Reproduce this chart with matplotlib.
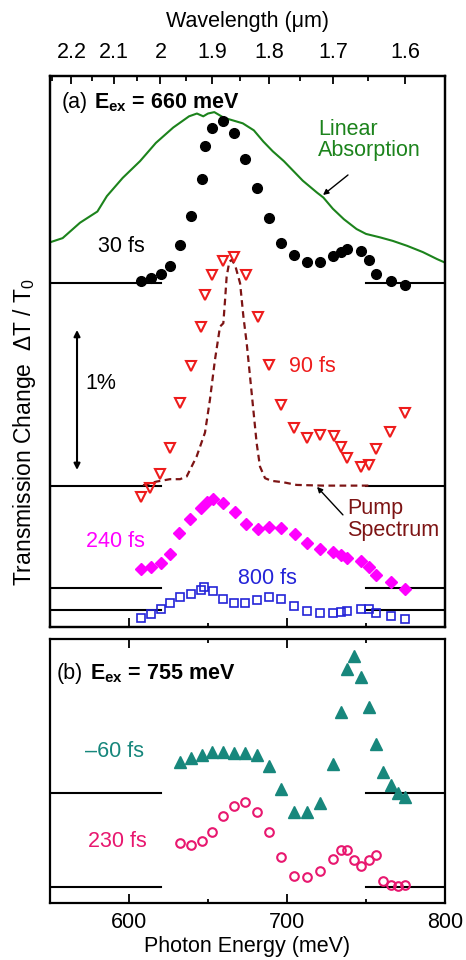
import matplotlib
matplotlib.use("Agg")
import matplotlib.pyplot as plt
from matplotlib.ticker import NullFormatter

plt.rcParams["font.family"] = ["Liberation Sans", "DejaVu Sans"]
plt.rcParams["mathtext.fontset"] = "custom"
plt.rcParams["mathtext.rm"] = "Liberation Sans"
plt.rcParams["mathtext.it"] = "Liberation Sans:italic"
plt.rcParams["mathtext.bf"] = "Liberation Sans:bold"

# ---- data (photon energy in meV, dT/T0 in %, relative to each baseline) ----
e_30 = [607.4, 613.9, 620.0, 625.9, 632.5, 639.0, 646.0, 647.9, 652.7, 659.5, 666.5, 673.6, 681.2,
        688.8, 696.4, 704.6, 712.7, 720.7, 729.3, 734.0, 738.0, 747.0, 751.7, 756.3, 765.6, 774.7]
v_30 = [0.014, 0.033, 0.067, 0.121, 0.271, 0.476, 0.745, 0.979, 1.110, 1.157, 1.069, 0.888, 0.676,
        0.467, 0.288, 0.198, 0.150, 0.150, 0.193, 0.224, 0.240, 0.229, 0.162, 0.067, 0.014, -0.014]

e_90 = [607.4, 613.5, 619.8, 625.9, 632.5, 639.0, 645.8, 647.9, 652.5, 659.5, 666.5, 673.8, 681.4,
        688.8, 696.4, 704.6, 712.7, 720.9, 729.5, 734.0, 738.0, 747.0, 751.7, 756.1, 765.2, 774.9]
v_90 = [-0.076, -0.012, 0.083, 0.274, 0.590, 0.857, 1.133, 1.364, 1.507, 1.610, 1.638, 1.507, 1.205,
        0.864, 0.576, 0.412, 0.345, 0.364, 0.357, 0.281, 0.198, 0.138, 0.150, 0.262, 0.388, 0.524]

e_240 = [607.4, 613.9, 620.0, 625.9, 631.8, 638.6, 645.5, 649.1, 652.9, 659.7, 666.8, 673.8, 681.4,
         688.8, 696.2, 704.8, 712.7, 720.7, 729.3, 734.0, 738.0, 747.0, 751.7, 756.1, 765.6, 774.7]
v_240 = [0.133, 0.148, 0.176, 0.243, 0.390, 0.490, 0.569, 0.617, 0.636, 0.610, 0.540, 0.457, 0.419,
         0.433, 0.426, 0.383, 0.319, 0.276, 0.260, 0.236, 0.217, 0.190, 0.148, 0.093, 0.045, -0.010]

e_800 = [607.4, 613.9, 620.0, 625.9, 632.3, 639.0, 645.5, 647.6, 652.9, 659.7, 666.6, 673.6, 680.8,
         688.8, 696.2, 704.6, 712.7, 720.7, 728.9, 734.0, 738.0, 747.0, 751.7, 756.1, 765.6, 774.7]
v_800 = [-0.060, -0.031, 0.005, 0.052, 0.090, 0.112, 0.143, 0.162, 0.138, 0.079, 0.052, 0.052, 0.071,
         0.090, 0.076, 0.029, -0.005, -0.024, -0.024, -0.017, -0.005, 0.007, 0.005, -0.019, -0.043, -0.067]

e_abs = [550, 558, 569, 580, 586, 596, 607, 617, 628, 638, 643, 647, 650, 654, 660, 666, 672, 679,
         685, 691, 698, 704, 710, 719, 723, 729, 736, 744, 750, 759, 767, 776, 786, 795, 800]
v_abs = [0.29, 0.32, 0.43, 0.51, 0.62, 0.75, 0.87, 1.00, 1.11, 1.19, 1.21, 1.19, 1.21, 1.22, 1.18,
         1.16, 1.14, 1.09, 1.01, 0.94, 0.87, 0.80, 0.73, 0.645, 0.61, 0.53, 0.455, 0.385, 0.35, 0.325,
         0.30, 0.265, 0.22, 0.17, 0.145]

e_pump = [608.9, 617.5, 625.9, 632.3, 636.5, 642.8, 648.1, 651.2, 654.4, 657.6, 659.7, 660.8, 661.8,
          663.5, 665.0, 667.1, 670.3, 672.4, 674.5, 676.6, 678.7, 680.8, 682.9, 686.1, 690.3, 697.7,
          706.1, 723.0, 751.5]
v_pump = [0.005, 0.031, 0.048, 0.048, 0.067, 0.210, 0.381, 0.614, 0.900, 1.138, 1.162, 1.329, 1.495,
          1.602, 1.614, 1.579, 1.448, 1.210, 1.019, 0.781, 0.543, 0.305, 0.138, 0.055, 0.036, 0.026,
          0.007, 0.002, 0.002]

e_b = [632.3, 639.0, 646.0, 652.7, 659.7, 666.6, 673.6, 681.0, 688.8, 696.4, 704.6, 712.7, 720.7,
       729.3, 734.0, 738.0, 742.6, 747.0, 751.7, 756.1, 761.0, 765.6, 770.3, 774.7]
v_m60 = [0.221, 0.250, 0.269, 0.293, 0.293, 0.281, 0.281, 0.269, 0.190, 0.024, -0.136, -0.136, -0.071,
         0.202, 0.579, 0.881, 0.979, 0.829, 0.610, 0.345, 0.145, 0.055, 0.000, -0.033]
v_230 = [0.317, 0.305, 0.329, 0.395, 0.512, 0.583, 0.607, 0.536, 0.393, 0.217, 0.079, 0.074, 0.114,
         0.202, 0.264, 0.264, 0.198, 0.150, 0.198, 0.229, 0.043, 0.014, 0.012, 0.014]

wl_major = [2.2, 2.1, 2.0, 1.9, 1.8, 1.7, 1.6]
wl_major_labels = ["2.2", "2.1", "2", "1.9", "1.8", "1.7", "1.6"]
wl_minor = [2.25, 2.15, 2.05, 1.95, 1.85, 1.75, 1.65, 1.55]

# vertical offsets of the traces (%)
off_30, off_90, off_240, off_800 = 2.336, 0.886, 0.157, 0.0
off_m60, off_230 = 0.676, 0.0

HC = 1239.84  # meV * um
FS = 15.5
C_ABS = "#1c831c"
C_90 = "#ee1c1c"
C_240 = "#ff00ff"
C_800 = "#2424d8"
C_PUMP = "#7d1414"
C_M60 = "#17877c"
C_230 = "#e8176f"

fig = plt.figure(figsize=(4.66, 9.6), dpi=100)
ax_a = fig.add_axes([50 / 466, 332.7 / 960, 395 / 466, 551.3 / 960])
ax_b = fig.add_axes([50 / 466, 57.3 / 960, 395 / 466, 263.4 / 960])


def baselines(ax, offsets):
    for off in offsets:
        ax.plot([550, 620], [off, off], color="k", lw=1.5, zorder=1)
        ax.plot([750, 800], [off, off], color="k", lw=1.5, zorder=1)


def shift(vals, off):
    return [v + off for v in vals]


# ---- panel (a) ----
baselines(ax_a, [off_30, off_90, off_240, off_800])
ax_a.plot(e_abs, shift(v_abs, off_30), color=C_ABS, lw=1.5, zorder=2)
ax_a.plot(e_pump, shift(v_pump, off_90), color=C_PUMP, lw=1.6, ls=(0, (3, 2)), zorder=2)
ax_a.plot(e_30, shift(v_30, off_30), "o", color="k", ms=7, zorder=3)
ax_a.plot(e_90, shift(v_90, off_90), "v", mfc="none", mec=C_90, mew=1.5, ms=7.5, zorder=3)
ax_a.plot(e_240, shift(v_240, off_240), "D", color=C_240, ms=6, zorder=3)
ax_a.plot(e_800, shift(v_800, off_800), "s", mfc="none", mec=C_800, mew=1.2, ms=6, zorder=3)

ax_a.set_xlim(550, 800)
ax_a.set_ylim(-0.124, 3.814)

ax_a.text(557.6, 3.584, "(a)", fontsize=FS, va="baseline")
ax_a.text(578.0, 3.584, r"$\mathbf{E_{ex}}$ = 660 meV", fontsize=FS, fontweight="bold", va="baseline")
ax_a.text(580.4, 2.595, "30 fs", fontsize=FS, va="center")
ax_a.text(701.3, 1.738, "90 fs", fontsize=FS, va="center", color=C_90)
ax_a.text(572.8, 0.488, "240 fs", fontsize=FS, va="center", color=C_240)
ax_a.text(669.2, 0.226, "800 fs", fontsize=FS, va="center", color=C_800)
ax_a.text(719.6, 3.51, "Linear\nAbsorption", fontsize=FS, va="top", color=C_ABS, linespacing=1.05)
ax_a.text(738.0, 0.80, "Pump\nSpectrum", fontsize=FS, va="top", color=C_PUMP, linespacing=1.05)
ax_a.text(572.5, 1.62, "1%", fontsize=FS, va="center")

arrow = dict(arrowstyle="-|>", color="k", lw=1.0, mutation_scale=8, shrinkA=0, shrinkB=0)
ax_a.annotate("", xy=(722.8, 2.964), xytext=(738.6, 3.107), arrowprops=arrow)
ax_a.annotate("", xy=(719.0, 0.879), xytext=(735.4, 0.679), arrowprops=arrow)
ax_a.annotate("", xy=(567.1, 1.0), xytext=(567.1, 2.0),
              arrowprops=dict(arrowstyle="<|-|>", color="k", lw=1.5, mutation_scale=9,
                              shrinkA=0, shrinkB=0))

# wavelength axis on top
ax_top = ax_a.twiny()
ax_top.set_xlim(550, 800)
ax_top.set_xticks([HC / w for w in wl_major])
ax_top.set_xticklabels(wl_major_labels)
ax_top.set_xticks([HC / w for w in wl_minor], minor=True)
ax_top.tick_params(axis="x", which="major", direction="in", length=6, width=1.3,
                   labelsize=FS, pad=9)
ax_top.tick_params(axis="x", which="minor", direction="in", length=3.5, width=1.3)
ax_top.set_xlabel("Wavelength (\u03bcm)", fontsize=FS, labelpad=11)

# ---- panel (b) ----
baselines(ax_b, [off_m60, off_230])
ax_b.plot(e_b, shift(v_m60, off_m60), "^", color=C_M60, ms=8, zorder=3)
ax_b.plot(e_b, shift(v_230, off_230), "o", mfc="none", mec=C_230, mew=1.5, ms=6.2, zorder=3)
ax_b.set_xlim(550, 800)
ax_b.set_ylim(-0.11, 1.771)

ax_b.text(554.2, 1.486, "(b)", fontsize=FS, va="baseline")
ax_b.text(575.3, 1.486, r"$\mathbf{E_{ex}}$ = 755 meV", fontsize=FS, fontweight="bold", va="baseline")
ax_b.text(572.2, 0.969, "\u201360 fs", fontsize=FS, va="center", color=C_M60)
ax_b.text(574.0, 0.326, "230 fs", fontsize=FS, va="center", color=C_230)

# ---- shared axis styling ----
for ax in (ax_a, ax_b):
    ax.set_xticks([600, 700, 800])
    ax.set_xticks([650, 750], minor=True)
    ax.set_yticks([])
    ax.tick_params(axis="x", which="major", direction="in", length=6.5, width=1.3,
                   labelsize=FS, pad=6.5)
    ax.tick_params(axis="x", which="minor", direction="in", length=3.2, width=1.3)
    for s in ax.spines.values():
        s.set_linewidth(1.6)
for s in ax_top.spines.values():
    s.set_linewidth(1.6)

ax_a.xaxis.set_major_formatter(NullFormatter())
ax_b.tick_params(axis="x", which="both", top=True)
ax_b.set_xlabel("Photon Energy (meV)", fontsize=FS, labelpad=2)

fig.text(25 / 466, 1 - 432 / 960, "Transmission Change  \u0394T / T$_0$", fontsize=16.5,
         rotation=90, ha="center", va="center")

fig.savefig("out.png", dpi=100)
